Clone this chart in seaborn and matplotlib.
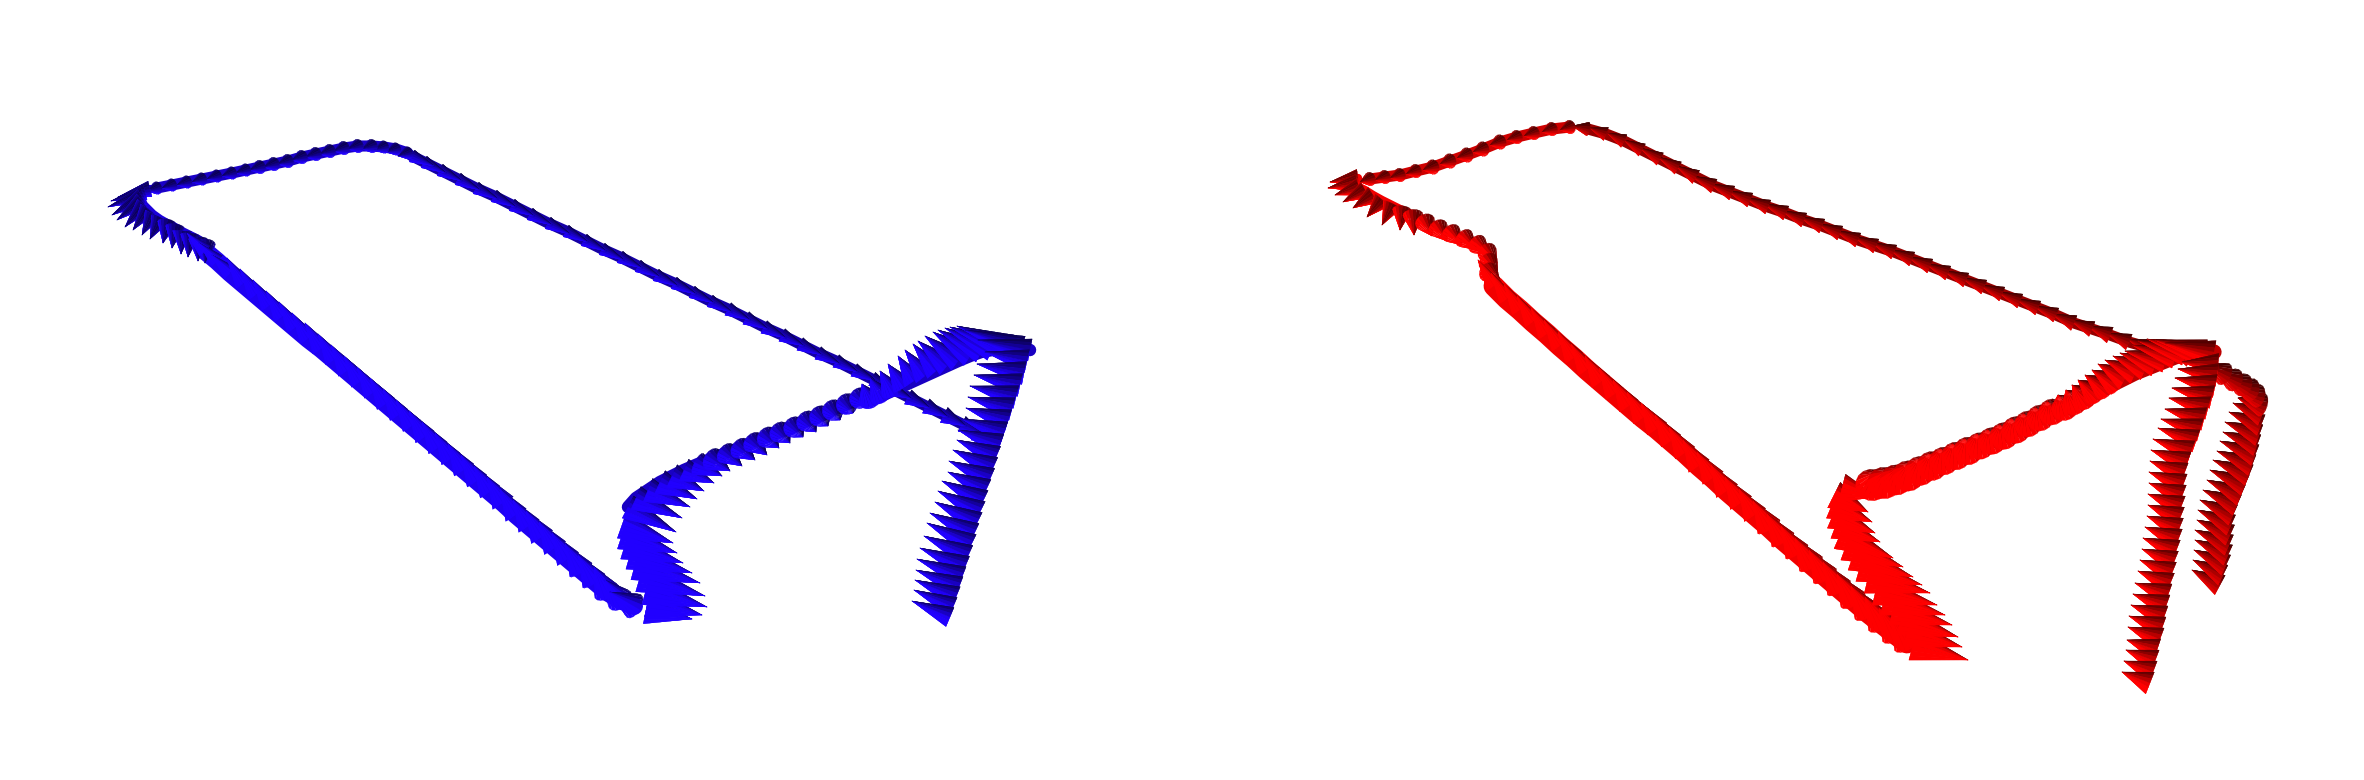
import numpy as np
import pandas as pd
import matplotlib
matplotlib.use("Agg")
import matplotlib.pyplot as plt
from matplotlib.collections import PolyCollection
import seaborn as sns

# every row is one cone: base x, base y, tip x, tip y, base width
blue_far = [
    (975,432,997,443,18),(962,424,984,435,17),(944,415,966,426,17),(926,406,948,417,16),(908,397,930,408,16),
    (890,388,912,399,15),(872,379,894,390,15),(854,370,876,381,14),(836,361,858,372,14),(818,353,840,364,14),
    (800,344,822,355,14),(782,335,804,346,14),(764,327,786,338,14),(746,318,768,329,14),(728,309,750,320,14),
    (710,301,732,312,13),(692,292,714,303,13),(674,283,696,294,13),(656,275,678,286,13),(638,266,660,277,13),
    (620,257,642,268,13),(602,249,624,260,13),(584,240,606,251,13),(566,231,588,242,13),(548,223,570,234,13),
    (530,214,552,225,13),(512,205,534,216,13),(494,196,516,207,13),(476,188,498,199,13),(458,179,480,190,13),
    (440,170,462,181,13),(424,162,446,173,13),(412,156,434,166,13),
]
blue_top = [
    (408,153,398,156,13),(396,149,386,152,13),(384,147,374,150,13),(372,146,362,149,14),(358,146,348,149,14),
    (344,148,334,151,14),(330,151,320,154,14),(316,154,306,157,14),(302,157,292,160,14),(288,161,278,164,14),
    (274,164,264,167,14),(260,167,250,170,14),(246,170,236,173,13),(232,173,222,176,13),(217,176,207,179,13),
    (202,179,192,182,13),(187,182,177,185,13),(172,185,162,188,13),(157,188,147,191,13),
]
blue_corner = [
    (150,189,118,197,12),(145,192,111,201,12),(143,194,108,207,12),(142,197,112,215,13),(142,201,117,220,13),
    (144,205,125,227,13),(148,209,133,230,13),(153,214,142,235,13),(160,219,150,239,14),(167,223,163,243,14),
    (175,227,172,248,14),(182,231,181,254,14),(190,235,188,257,14),(198,239,198,261,14),(206,244,205,263,14),
]
blue_tube = [
    (205,251,187,233,15),(217,261,199,243,15),(230,273,212,255,16),(243,284,227,258,16),(256,295,240,269,17),
    (269,306,253,280,17),(282,317,266,291,18),(295,328,279,302,18),(308,339,292,313,18),(321,349,305,323,19),
    (334,360,318,334,19),(347,371,331,345,20),(360,382,344,356,20),(373,393,357,367,20),(386,404,370,378,21),
    (399,415,383,389,21),(412,426,396,400,21),(425,437,409,411,22),(438,448,422,422,22),(451,459,435,433,22),
    (464,470,448,444,23),(477,481,461,455,23),(490,492,474,466,23),(503,503,487,477,24),(516,515,500,489,24),
    (529,526,513,500,24),(542,537,526,511,25),(555,548,539,522,25),(568,559,552,533,25),(581,570,565,544,26),
    (594,581,578,555,26),(607,592,594,567,27),(620,600,605,580,27),(634,606,610,592,27),
]
blue_hook = [
    (622,525,673,543,20),(622,535,677,553,21),(625,545,683,563,21),(630,555,692,573,21),(635,565,700,583,22),
    (640,577,705,596,22),(646,590,707,607,22),(648,602,702,615,22),(646,610,692,619,20),
]
blue_arc = [
    (1030,350,978,340,18),(1022,347,965,330,18),(1013,346,957,326,18),(1003,347,950,327,18),(992,350,945,328,18),
    (981,352,938,330,18),(970,356,933,332,18),(958,361,925,336,18),(947,366,918,341,18),(936,371,913,344,18),
    (925,376,905,350,18),(914,381,898,356,18),(903,386,888,364,18),(892,391,880,371,18),(881,396,870,378,18),
    (870,400,862,384,18),(860,398,868,407,18),(847,404,853,413,18),(833,410,840,420,18),(820,416,828,426,18),
    (807,421,816,432,18),(794,427,803,437,18),(780,432,790,443,18),(767,437,779,448,18),(753,442,767,455,18),
    (740,448,755,460,18),(726,453,742,466,18),(712,459,730,471,19),(698,464,722,476,19),(684,470,714,483,19),
    (672,476,704,491,20),(660,482,697,499,20),(648,490,690,507,20),(636,498,682,518,20),(628,507,676,532,20),
]
blue_strand = [
    (950,617,912,601,16),(953,607,914,590,16),(956,597,915,580,17),(959,587,916,570,17),(962,577,917,559,17),
    (965,567,920,548,18),(968,556,924,536,18),(971,545,927,523,18),(974,534,930,513,18),(977,523,935,502,18),
    (980,512,938,491,18),(983,501,942,481,18),(986,490,948,472,18),(990,479,949,461,18),(993,468,953,450,18),
    (996,457,957,440,18),(1000,445,958,430,18),(1004,433,962,419,18),(1008,421,966,408,18),(1012,409,968,397,18),
    (1016,397,970,386,18),(1020,385,974,375,18),(1024,373,977,364,18),(1027,361,985,352,18),
]

red_strand_back = [
    (2220,585,2192,570,17),(2223,575,2193,560,17),(2226,565,2194,550,17),(2228,555,2195,540,17),(2229,545,2195,530,17),
    (2230,535,2197,520,17),(2231,525,2198,510,17),(2233,515,2200,500,17),(2237,505,2203,490,17),(2241,495,2207,480,17),
    (2245,485,2210,470,17),(2249,475,2213,460,17),(2252,465,2217,451,17),(2255,455,2220,441,17),(2257,445,2223,432,17),
    (2259,435,2225,422,17),(2261,425,2229,412,17),(2262,415,2233,403,17),(2262,405,2238,398,18),(2258,396,2236,391,18),
    (2251,390,2232,384,18),(2243,385,2226,378,18),(2234,380,2216,372,18),(2224,374,2204,364,18),
]
red_far = [
    (2190,358,2168,349,18),(2170,352,2148,343,18),(2150,348,2128,339,18),(2129,342,2107,333,17),(2110,335,2088,326,17),
    (2092,329,2070,320,16),(2074,323,2052,314,16),(2056,315,2034,306,15),(2038,308,2016,299,15),(2020,301,1998,292,15),
    (2002,294,1980,285,15),(1984,287,1962,278,15),(1966,280,1944,271,15),(1948,273,1926,264,15),(1930,266,1908,257,15),
    (1912,259,1890,250,15),(1894,252,1872,243,15),(1876,246,1854,237,15),(1858,240,1836,231,15),(1840,233,1818,224,15),
    (1822,226,1800,217,15),(1804,220,1782,211,15),(1786,213,1764,204,15),(1768,207,1746,198,15),(1750,200,1728,191,15),
    (1732,193,1710,184,15),(1714,186,1692,176,15),(1696,177,1676,166,15),(1678,168,1658,157,14),(1660,159,1640,148,14),
    (1642,150,1624,140,14),(1624,141,1607,133,14),(1606,134,1590,128,14),(1588,129,1572,126,14),
]
red_top = [
    (1570,127,1560,130,14),(1552,129,1542,132,14),(1534,133,1524,136,14),(1517,137,1507,140,14),(1500,142,1490,145,15),
    (1483,149,1473,152,15),(1467,155,1457,158,15),(1450,161,1440,164,15),(1433,167,1423,170,15),(1416,171,1406,174,14),
    (1400,175,1390,178,14),(1385,177,1375,180,14),(1370,179,1360,182,14),
]
red_corner = [
    (1358,178,1330,182,13),(1357,183,1328,188,13),(1359,187,1335,195,13),(1365,190,1343,202,13),(1373,195,1353,208,14),
    (1382,200,1367,217,14),(1392,205,1382,225,14),(1402,210,1400,230,14),(1413,215,1414,235,15),(1425,222,1432,236,15),
    (1438,228,1447,241,15),(1451,233,1462,245,15),(1464,238,1477,250,15),(1477,244,1490,255,15),(1487,252,1497,263,15),
    (1488,262,1498,273,15),(1488,272,1500,280,15),
]
red_tube = [
    (1494,286,1478,260,17),(1507,299,1491,273,17),(1520,310,1504,284,18),(1533,322,1517,296,18),(1547,334,1531,308,19),
    (1560,346,1544,320,19),(1574,358,1558,332,20),(1587,370,1571,344,20),(1601,382,1585,356,21),(1615,394,1599,368,21),
    (1629,406,1613,380,22),(1643,418,1627,392,22),(1657,429,1641,403,23),(1671,441,1655,415,23),(1685,453,1669,427,23),
    (1699,466,1683,440,24),(1713,478,1697,452,24),(1727,491,1711,465,25),(1741,503,1725,477,25),(1755,515,1739,489,25),
    (1769,527,1753,501,26),(1783,540,1767,514,26),(1797,552,1781,526,26),(1811,564,1795,538,27),(1825,576,1809,550,27),
    (1839,588,1823,562,27),(1853,600,1837,574,28),(1867,612,1851,586,28),(1881,623,1865,597,29),(1895,634,1879,608,29),
    (1907,643,1891,617,29),
]
red_hook = [
    (1842,488,1877,497,22),(1834,495,1868,512,22),(1832,505,1872,522,22),(1833,515,1875,533,22),(1836,525,1880,542,22),
    (1840,535,1893,558,23),(1846,546,1903,567,23),(1853,556,1913,577,23),(1860,567,1922,585,23),(1868,578,1930,593,24),
    (1876,590,1937,605,24),(1884,600,1945,615,24),(1893,610,1952,625,24),(1901,620,1958,637,24),(1907,632,1962,647,24),
    (1913,645,1968,660,24),
]
red_arc = [
    (2214,352,2165,343,20),(2205,351,2155,340,20),(2195,352,2147,339,20),(2185,354,2138,341,20),(2175,357,2132,345,20),
    (2165,361,2125,351,20),(2155,365,2120,353,20),(2145,369,2113,356,20),(2135,373,2105,360,20),(2125,378,2098,364,22),
    (2115,383,2092,370,22),(2105,388,2085,375,22),(2095,393,2078,380,22),(2085,398,2072,385,23),(2075,403,2066,390,23),
    (2065,408,2058,395,24),(2052,412,2048,402,24),(2040,418,2036,408,24),(2028,424,2024,414,24),(2016,430,2012,419,25),
    (2004,436,2000,425,25),(1992,441,1988,430,25),(1980,446,1977,434,25),(1968,451,1965,439,26),(1956,456,1953,444,26),
    (1944,461,1941,449,26),(1932,466,1930,454,27),(1920,471,1919,459,27),(1908,476,1908,464,28),(1896,480,1897,468,28),
    (1884,483,1886,471,29),(1872,485,1875,473,29),
]
red_strand_front = [
    (2150,683,2122,672,18),(2153,672,2124,661,18),(2155,661,2126,650,18),(2157,650,2127,640,18),(2160,639,2128,627,18),
    (2162,628,2129,616,18),(2164,617,2131,605,18),(2166,606,2133,594,18),(2168,595,2135,583,18),(2170,584,2138,571,18),
    (2172,573,2140,560,18),(2174,562,2142,549,18),(2176,551,2143,538,18),(2178,540,2145,527,18),(2179,529,2147,516,18),
    (2180,518,2148,505,18),(2181,507,2148,494,18),(2182,496,2149,483,18),(2183,485,2149,472,18),(2184,474,2150,461,18),
    (2187,463,2151,450,18),(2191,452,2153,439,18),(2196,441,2158,428,18),(2200,430,2161,419,18),(2204,419,2165,409,18),
    (2208,408,2169,398,18),(2212,397,2172,388,18),(2215,386,2175,378,18),(2217,375,2178,369,18),(2218,365,2182,362,18),
]

blue_rgb = (0.13, 0.0, 1.0)
red_rgb = (1.0, 0.0, 0.0)

# (cones, brightness, tube width in points, cone width factor) back of the scene first
blue_parts = [
    (blue_far, 0.68, 8, 1.0), (blue_top, 0.82, 8, 1.0), (blue_corner, 0.9, 6, 1.35), (blue_tube, 1.0, 13, 1.0),
    (blue_hook[::-1], 1.0, 0, 1.4), (blue_arc[::-1], 0.8, 9, 1.25), (blue_strand[::-1], 0.92, 0, 1.3),
]
red_parts = [
    (red_strand_back, 0.62, 0, 1.3), (red_far, 0.62, 8, 1.0), (red_top, 0.85, 8, 1.0), (red_corner, 1.0, 6, 1.35),
    (red_tube, 1.0, 15, 1.0), (red_hook[::-1], 1.0, 0, 1.3), (red_arc[::-1], 0.78, 11, 1.15),
    (red_strand_front[::-1], 0.88, 0, 1.3),
]

light = np.array([-0.55, 0.83])
theta = np.linspace(0, 2 * np.pi, 17)


def cone_facets(bx, by, tx, ty, w, rgb, bright):
    base = np.array([bx, by], float)
    tip = np.array([tx, ty], float)
    axis = tip - base
    length = max(np.hypot(*axis), 1e-6)
    axis = axis / length
    side = np.array([-axis[1], axis[0]])
    # projected length against the true cone length gives the tilt of the base disc
    tilt = min(length / (1.2 * w), 1.0)
    minor = 0.5 * w * np.sqrt(1 - tilt ** 2)
    polys, colors = [], []
    mids = 0.5 * (theta[:-1] + theta[1:])
    # the half of the fan behind the tip goes on last
    order = sorted(range(len(mids)), key=lambda i: -np.sin(mids[i]))
    for i in order:
        p0 = base + 0.5 * w * np.cos(theta[i]) * side + minor * np.sin(theta[i]) * axis
        p1 = base + 0.5 * w * np.cos(theta[i + 1]) * side + minor * np.sin(theta[i + 1]) * axis
        radial = np.cos(mids[i]) * side + np.sin(mids[i]) * axis
        lit = 0.5 + 0.5 * float(radial @ light)
        level = np.clip((0.38 + 1.15 * lit ** 0.8) * bright, 0, 1)
        polys.append([p0, p1, tip])
        colors.append(tuple(c * level for c in rgb))
    return polys, colors


def draw_part(ax, rows, bright, tube, fat, rgb):
    if tube:
        frame = pd.DataFrame({"x": [r[0] for r in rows], "y": [r[1] for r in rows]})
        sns.lineplot(data=frame, x="x", y="y", estimator=None, sort=False, ax=ax, lw=tube,
                     color=tuple(c * bright * 0.95 for c in rgb), solid_capstyle="round")
    polys, colors = [], []
    for bx, by, tx, ty, w in rows:
        p, c = cone_facets(bx, by, tx, ty, w * fat, rgb, bright)
        polys += p
        colors += c
    ax.add_collection(PolyCollection(polys, facecolors=colors, edgecolors=colors, linewidths=0.15, zorder=3))


sns.set_theme(style="white")
fig = plt.figure(figsize=(23.64, 7.8), dpi=100)
ax = fig.add_axes([0, 0, 1, 1])

for rows, bright, tube, fat in blue_parts:
    draw_part(ax, rows, bright, tube, fat, blue_rgb)
for rows, bright, tube, fat in red_parts:
    draw_part(ax, rows, bright, tube, fat, red_rgb)

ax.set_xlim(0, 2364)
ax.set_ylim(780, 0)
ax.set_axis_off()
plt.savefig("out.png", dpi=100, facecolor="white")
